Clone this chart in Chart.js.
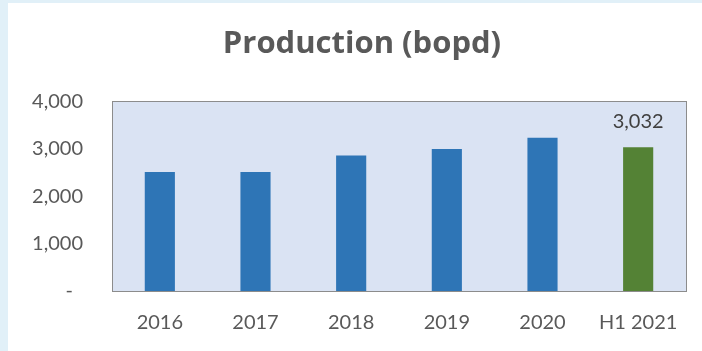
<!DOCTYPE html>
<html>
<head>
<meta charset="utf-8">
<script src="https://cdn.jsdelivr.net/npm/chart.js@4.4.1/dist/chart.umd.min.js"></script>
<style>
    html, body { margin: 0; padding: 0; background: #e1f0f8; }
    #wrap { position: absolute; left: 8px; top: 3px; width: 694px; height: 348px; background: #ffffff; }
    canvas { display: block; }
</style>
</head>
<body>
<div id="wrap"><canvas id="productionChart" width="694" height="348"></canvas></div>
<script>
const categories = ['2016', '2017', '2018', '2019', '2020', 'H1 2021'];
const production = [2510, 2510, 2857, 2990, 3228, 3032];
const barColors = ['#2e75b6', '#2e75b6', '#2e75b6', '#2e75b6', '#2e75b6', '#548235'];
const labelledBars = [5];
const yTicks = [0, 1000, 2000, 3000, 4000];

// plot area fill + border, like the Excel chart
const plotArea = {
    id: 'plotArea',
    afterLayout(chart) {
        // title sits a bit right of the canvas centre in the original
        chart.titleBlock.left += 18;
    },
    beforeDatasetsDraw(chart) {
        const a = chart.chartArea;
        const ctx = chart.ctx;
        ctx.save();
        ctx.fillStyle = '#dae3f3';
        ctx.fillRect(a.left, a.top, a.right - a.left, a.bottom - a.top);
        ctx.strokeStyle = '#8c8c8c';
        ctx.lineWidth = 1;
        ctx.strokeRect(Math.round(a.left) + 0.5, Math.round(a.top) + 0.5, Math.round(a.right - a.left), Math.round(a.bottom - a.top));
        ctx.restore();
    }
};

// value label above selected bars
const valueLabels = {
    id: 'valueLabels',
    afterDatasetsDraw(chart) {
        const ctx = chart.ctx;
        const meta = chart.getDatasetMeta(0);
        ctx.save();
        ctx.font = '20px Lato';
        ctx.fillStyle = '#404040';
        ctx.textAlign = 'center';
        ctx.textBaseline = 'middle';
        labelledBars.forEach(function(i) {
            const bar = meta.data[i];
            ctx.fillText(production[i].toLocaleString('en-US'), bar.x, bar.y - 26);
        });
        ctx.restore();
    }
};

new Chart(document.getElementById('productionChart'), {
    type: 'bar',
    data: {
        labels: categories,
        datasets: [{
            data: production,
            backgroundColor: barColors,
            barPercentage: 0.315,
            categoryPercentage: 1
        }]
    },
    options: {
        responsive: false,
        animation: false,
        layout: { padding: { left: 12, right: 16, top: 0, bottom: 4 } },
        plugins: {
            legend: { display: false },
            tooltip: { enabled: false },
            title: {
                display: true,
                text: 'Production (bopd)',
                color: '#595959',
                font: { family: 'Open Sans', size: 31, weight: 'bold', lineHeight: 1.2 },
                padding: { top: 23, bottom: 38 }
            }
        },
        scales: {
            x: {
                grid: { display: false },
                border: { display: false },
                ticks: {
                    color: '#595959',
                    font: { family: 'Lato', size: 20 },
                    padding: 12,
                    maxRotation: 0
                }
            },
            y: {
                min: 0,
                max: 4000,
                afterBuildTicks: function(scale) {
                    scale.ticks = yTicks.map(v => ({ value: v }));
                },
                afterFit: function(scale) {
                    scale.width = 92;
                },
                grid: { display: false, drawTicks: false },
                border: { display: false },
                ticks: {
                    color: '#595959',
                    font: { family: 'Lato', size: 20 },
                    padding: 29,
                    callback: function(value) {
                        return value === 0 ? '-\u2002' : value.toLocaleString('en-US');
                    }
                }
            }
        }
    },
    plugins: [plotArea, valueLabels]
});
</script>
</body>
</html>
